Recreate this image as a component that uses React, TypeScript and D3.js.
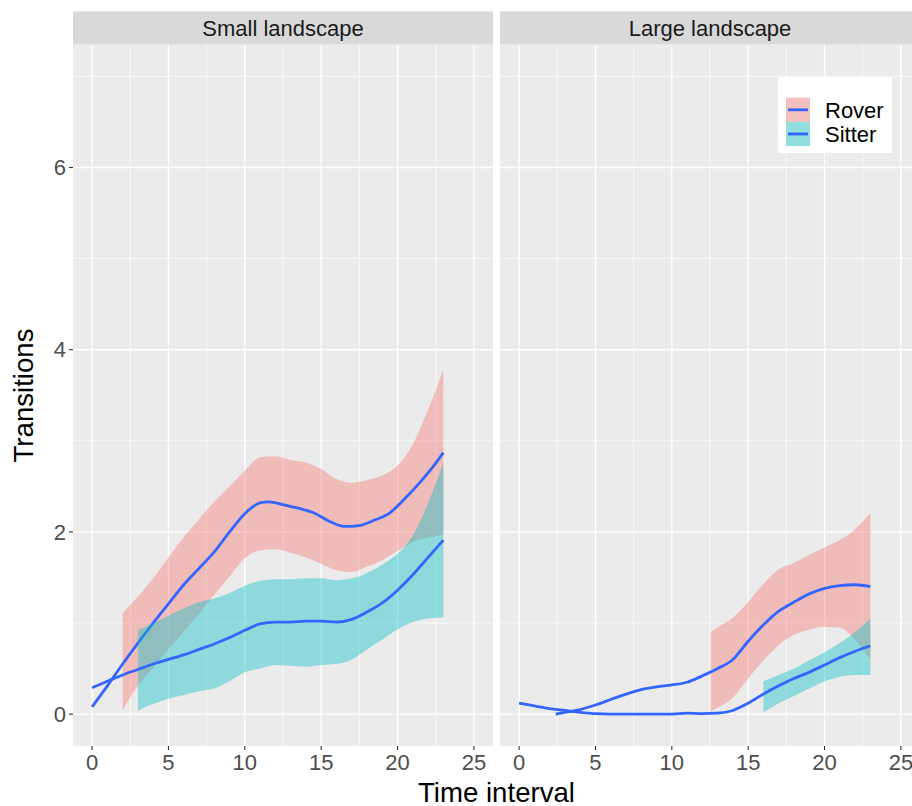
import * as d3 from "d3";
import React from "react";

// Small landscape
const smallRoverX = [0, 1, 2, 3, 4, 5, 6, 7, 8, 9, 10, 11, 11.6, 12.5, 13.5, 14.5, 15.5, 16.5, 17.5, 18.5, 19.5, 20.5, 21.5, 22.3, 23];
const smallRoverY = [0.08, 0.31, 0.55, 0.78, 1.0, 1.21, 1.42, 1.6, 1.78, 2.0, 2.2, 2.32, 2.33, 2.3, 2.26, 2.21, 2.12, 2.06, 2.07, 2.13, 2.21, 2.37, 2.55, 2.71, 2.87];
const smallRoverBandX = [2, 3, 4, 5, 6, 7, 8, 9, 10, 11, 12, 13, 14, 15, 16, 17, 18, 19, 20, 21, 22, 23];
const smallRoverHigh = [1.11, 1.29, 1.49, 1.72, 1.94, 2.14, 2.33, 2.5, 2.67, 2.82, 2.83, 2.79, 2.76, 2.69, 2.58, 2.54, 2.57, 2.62, 2.73, 2.96, 3.34, 3.78];
const smallRoverLow = [0.04, 0.31, 0.51, 0.71, 0.91, 1.1, 1.31, 1.51, 1.71, 1.8, 1.81, 1.77, 1.72, 1.65, 1.58, 1.56, 1.62, 1.69, 1.79, 1.89, 1.94, 1.97];

const smallSitterX = [0, 1, 2, 3, 4, 5, 6, 7, 8, 9, 10, 11, 12, 13, 14, 15, 16, 17, 18, 19, 20, 21, 22, 23];
const smallSitterY = [0.29, 0.36, 0.43, 0.49, 0.55, 0.6, 0.65, 0.71, 0.77, 0.84, 0.92, 0.99, 1.01, 1.01, 1.02, 1.02, 1.01, 1.04, 1.12, 1.22, 1.36, 1.53, 1.72, 1.91];
const smallSitterBandX = [3, 4, 5, 6, 7, 8, 9, 10, 11, 12, 13, 14, 15, 16, 17, 18, 19, 20, 21, 22, 23];
const smallSitterHigh = [0.92, 1.0, 1.08, 1.16, 1.23, 1.27, 1.33, 1.41, 1.46, 1.48, 1.48, 1.49, 1.49, 1.47, 1.49, 1.55, 1.64, 1.76, 1.96, 2.32, 2.76];
const smallSitterLow = [0.04, 0.11, 0.17, 0.21, 0.25, 0.28, 0.36, 0.46, 0.5, 0.54, 0.53, 0.52, 0.54, 0.55, 0.6, 0.71, 0.82, 0.93, 1.01, 1.05, 1.06];

// Large landscape
const largeRoverX = [2.4, 3, 4, 5, 6, 7, 8, 9, 10, 11, 12, 13, 14, 15, 16, 17, 18, 19, 20, 21, 22, 23];
const largeRoverY = [0, 0.02, 0.05, 0.1, 0.16, 0.22, 0.27, 0.3, 0.32, 0.35, 0.42, 0.5, 0.6, 0.8, 0.98, 1.13, 1.23, 1.32, 1.38, 1.41, 1.42, 1.4];
const largeRoverBandX = [12.55, 13, 14, 15, 16, 17, 18, 19, 20, 21, 22, 23];
const largeRoverHigh = [0.9, 0.95, 1.06, 1.23, 1.43, 1.59, 1.66, 1.75, 1.83, 1.91, 2.03, 2.21];
const largeRoverLow = [0.03, 0.07, 0.18, 0.39, 0.59, 0.76, 0.87, 0.93, 0.96, 0.95, 0.81, 0.6];

const largeSitterX = [0, 1, 2, 3, 4, 5, 6, 7, 8, 9, 10, 11, 12, 13, 14, 15, 16, 17, 18, 19, 20, 21, 22, 23];
const largeSitterY = [0.12, 0.09, 0.06, 0.04, 0.02, 0.005, 0, 0, 0, 0, 0, 0.01, 0.005, 0.01, 0.04, 0.12, 0.22, 0.31, 0.39, 0.46, 0.54, 0.62, 0.69, 0.75];
const largeSitterBandX = [16, 17, 18, 19, 20, 21, 22, 23];
const largeSitterHigh = [0.36, 0.43, 0.5, 0.59, 0.68, 0.78, 0.9, 1.05];
const largeSitterLow = [0.02, 0.12, 0.2, 0.28, 0.36, 0.41, 0.43, 0.43];

const xTicks = [0, 5, 10, 15, 20, 25];
const xMinor = [2.5, 7.5, 12.5, 17.5, 22.5];
const yTicks = [0, 2, 4, 6];
const yMinor = [1, 3, 5, 7];
const groups = ["Rover", "Sitter"];
const colors: Record<string, string> = { Rover: "#F8766D", Sitter: "#00BFC4" };
const lineColor = "#3366FF";

const panels = [
  {
    name: "Small landscape",
    x0: 73,
    series: [
      { group: "Rover", lx: smallRoverX, ly: smallRoverY, bx: smallRoverBandX, lo: smallRoverLow, hi: smallRoverHigh },
      { group: "Sitter", lx: smallSitterX, ly: smallSitterY, bx: smallSitterBandX, lo: smallSitterLow, hi: smallSitterHigh },
    ],
  },
  {
    name: "Large landscape",
    x0: 500,
    series: [
      { group: "Rover", lx: largeRoverX, ly: largeRoverY, bx: largeRoverBandX, lo: largeRoverLow, hi: largeRoverHigh },
      { group: "Sitter", lx: largeSitterX, ly: largeSitterY, bx: largeSitterBandX, lo: largeSitterLow, hi: largeSitterHigh },
    ],
  },
];

const W = 912, H = 806;
const panelW = 420;
const top = 44.5, bottom = 746, stripTop = 11.3;
const font = "'Liberation Sans', Arial, sans-serif";

const y = d3.scaleLinear().domain([-0.35, 7.35]).range([bottom, top]);

export default function App() {
  return (
    <div style={{ position: "absolute", left: 0, top: 0 }}>
      <svg width={W} height={H} style={{ display: "block", fontFamily: font }}>
        <rect width={W} height={H} fill="#fff" />
        {panels.map((p, pi) => {
          const x = d3.scaleLinear().domain([-1.25, 26.25]).range([p.x0, p.x0 + panelW]);
          return (
            <g key={p.name}>
              <rect x={p.x0} y={top} width={panelW} height={bottom - top} fill="#EBEBEB" />
              {yMinor.map(v => (
                <line key={"ym" + v} x1={p.x0} x2={p.x0 + panelW} y1={y(v)} y2={y(v)} stroke="#fff" strokeWidth={0.7} />
              ))}
              {xMinor.map(v => (
                <line key={"xm" + v} x1={x(v)} x2={x(v)} y1={top} y2={bottom} stroke="#fff" strokeWidth={0.7} />
              ))}
              {yTicks.map(v => (
                <line key={"yM" + v} x1={p.x0} x2={p.x0 + panelW} y1={y(v)} y2={y(v)} stroke="#fff" strokeWidth={1.4} />
              ))}
              {xTicks.map(v => (
                <line key={"xM" + v} x1={x(v)} x2={x(v)} y1={top} y2={bottom} stroke="#fff" strokeWidth={1.4} />
              ))}
              {p.series.map(s => {
                const band = d3
                  .area<number>()
                  .x((d, i) => x(s.bx[i]))
                  .y0((d, i) => y(s.lo[i]))
                  .y1((d, i) => y(s.hi[i]))
                  .curve(d3.curveMonotoneX);
                const ln = d3
                  .line<number>()
                  .x((d, i) => x(s.lx[i]))
                  .y(d => y(d))
                  .curve(d3.curveMonotoneX);
                return (
                  <g key={s.group}>
                    <path d={band(s.bx) || ""} fill={colors[s.group]} fillOpacity={0.4} />
                    <path d={ln(s.ly) || ""} fill="none" stroke={lineColor} strokeWidth={2.8} />
                  </g>
                );
              })}
              {/* strip */}
              <rect x={p.x0} y={stripTop} width={panelW} height={top - stripTop} fill="#D9D9D9" />
              <text x={p.x0 + panelW / 2} y={36} textAnchor="middle" fontSize={22} fill="#1A1A1A">
                {p.name}
              </text>
              {/* x axis */}
              {xTicks.map(v => (
                <g key={"xt" + v}>
                  <line x1={x(v)} x2={x(v)} y1={bottom} y2={bottom + 4} stroke="#333" strokeWidth={1.1} />
                  <text x={x(v)} y={770} textAnchor="middle" fontSize={22} fill="#4D4D4D">
                    {v}
                  </text>
                </g>
              ))}
              {pi === 0 &&
                yTicks.map(v => (
                  <g key={"yt" + v}>
                    <line x1={p.x0 - 4} x2={p.x0} y1={y(v)} y2={y(v)} stroke="#333" strokeWidth={1.1} />
                    <text x={p.x0 - 7} y={y(v) + 7.8} textAnchor="end" fontSize={22} fill="#4D4D4D">
                      {v}
                    </text>
                  </g>
                ))}
            </g>
          );
        })}
        {/* legend */}
        <g>
          <rect x={778} y={77} width={114} height={76} fill="#fff" />
          {groups.map((g, i) => {
            const ky = 97.7 + i * 24.2;
            return (
              <g key={g}>
                <rect x={786} y={ky} width={24} height={24.2} fill="#F2F2F2" />
                <rect x={786} y={ky} width={24} height={24.2} fill={colors[g]} fillOpacity={0.4} />
                <line x1={788} x2={808} y1={ky + 12.1} y2={ky + 12.1} stroke={lineColor} strokeWidth={2.8} />
                <text x={825} y={ky + 12.1 + 7.8} fontSize={22} fill="#000">
                  {g}
                </text>
              </g>
            );
          })}
        </g>
        {/* axis titles */}
        <text x={496.5} y={801.5} textAnchor="middle" fontSize={27.6} fill="#000">
          Time interval
        </text>
        <text transform={`translate(33,395.5) rotate(-90)`} textAnchor="middle" fontSize={27.6} fill="#000">
          Transitions
        </text>
      </svg>
    </div>
  );
}
